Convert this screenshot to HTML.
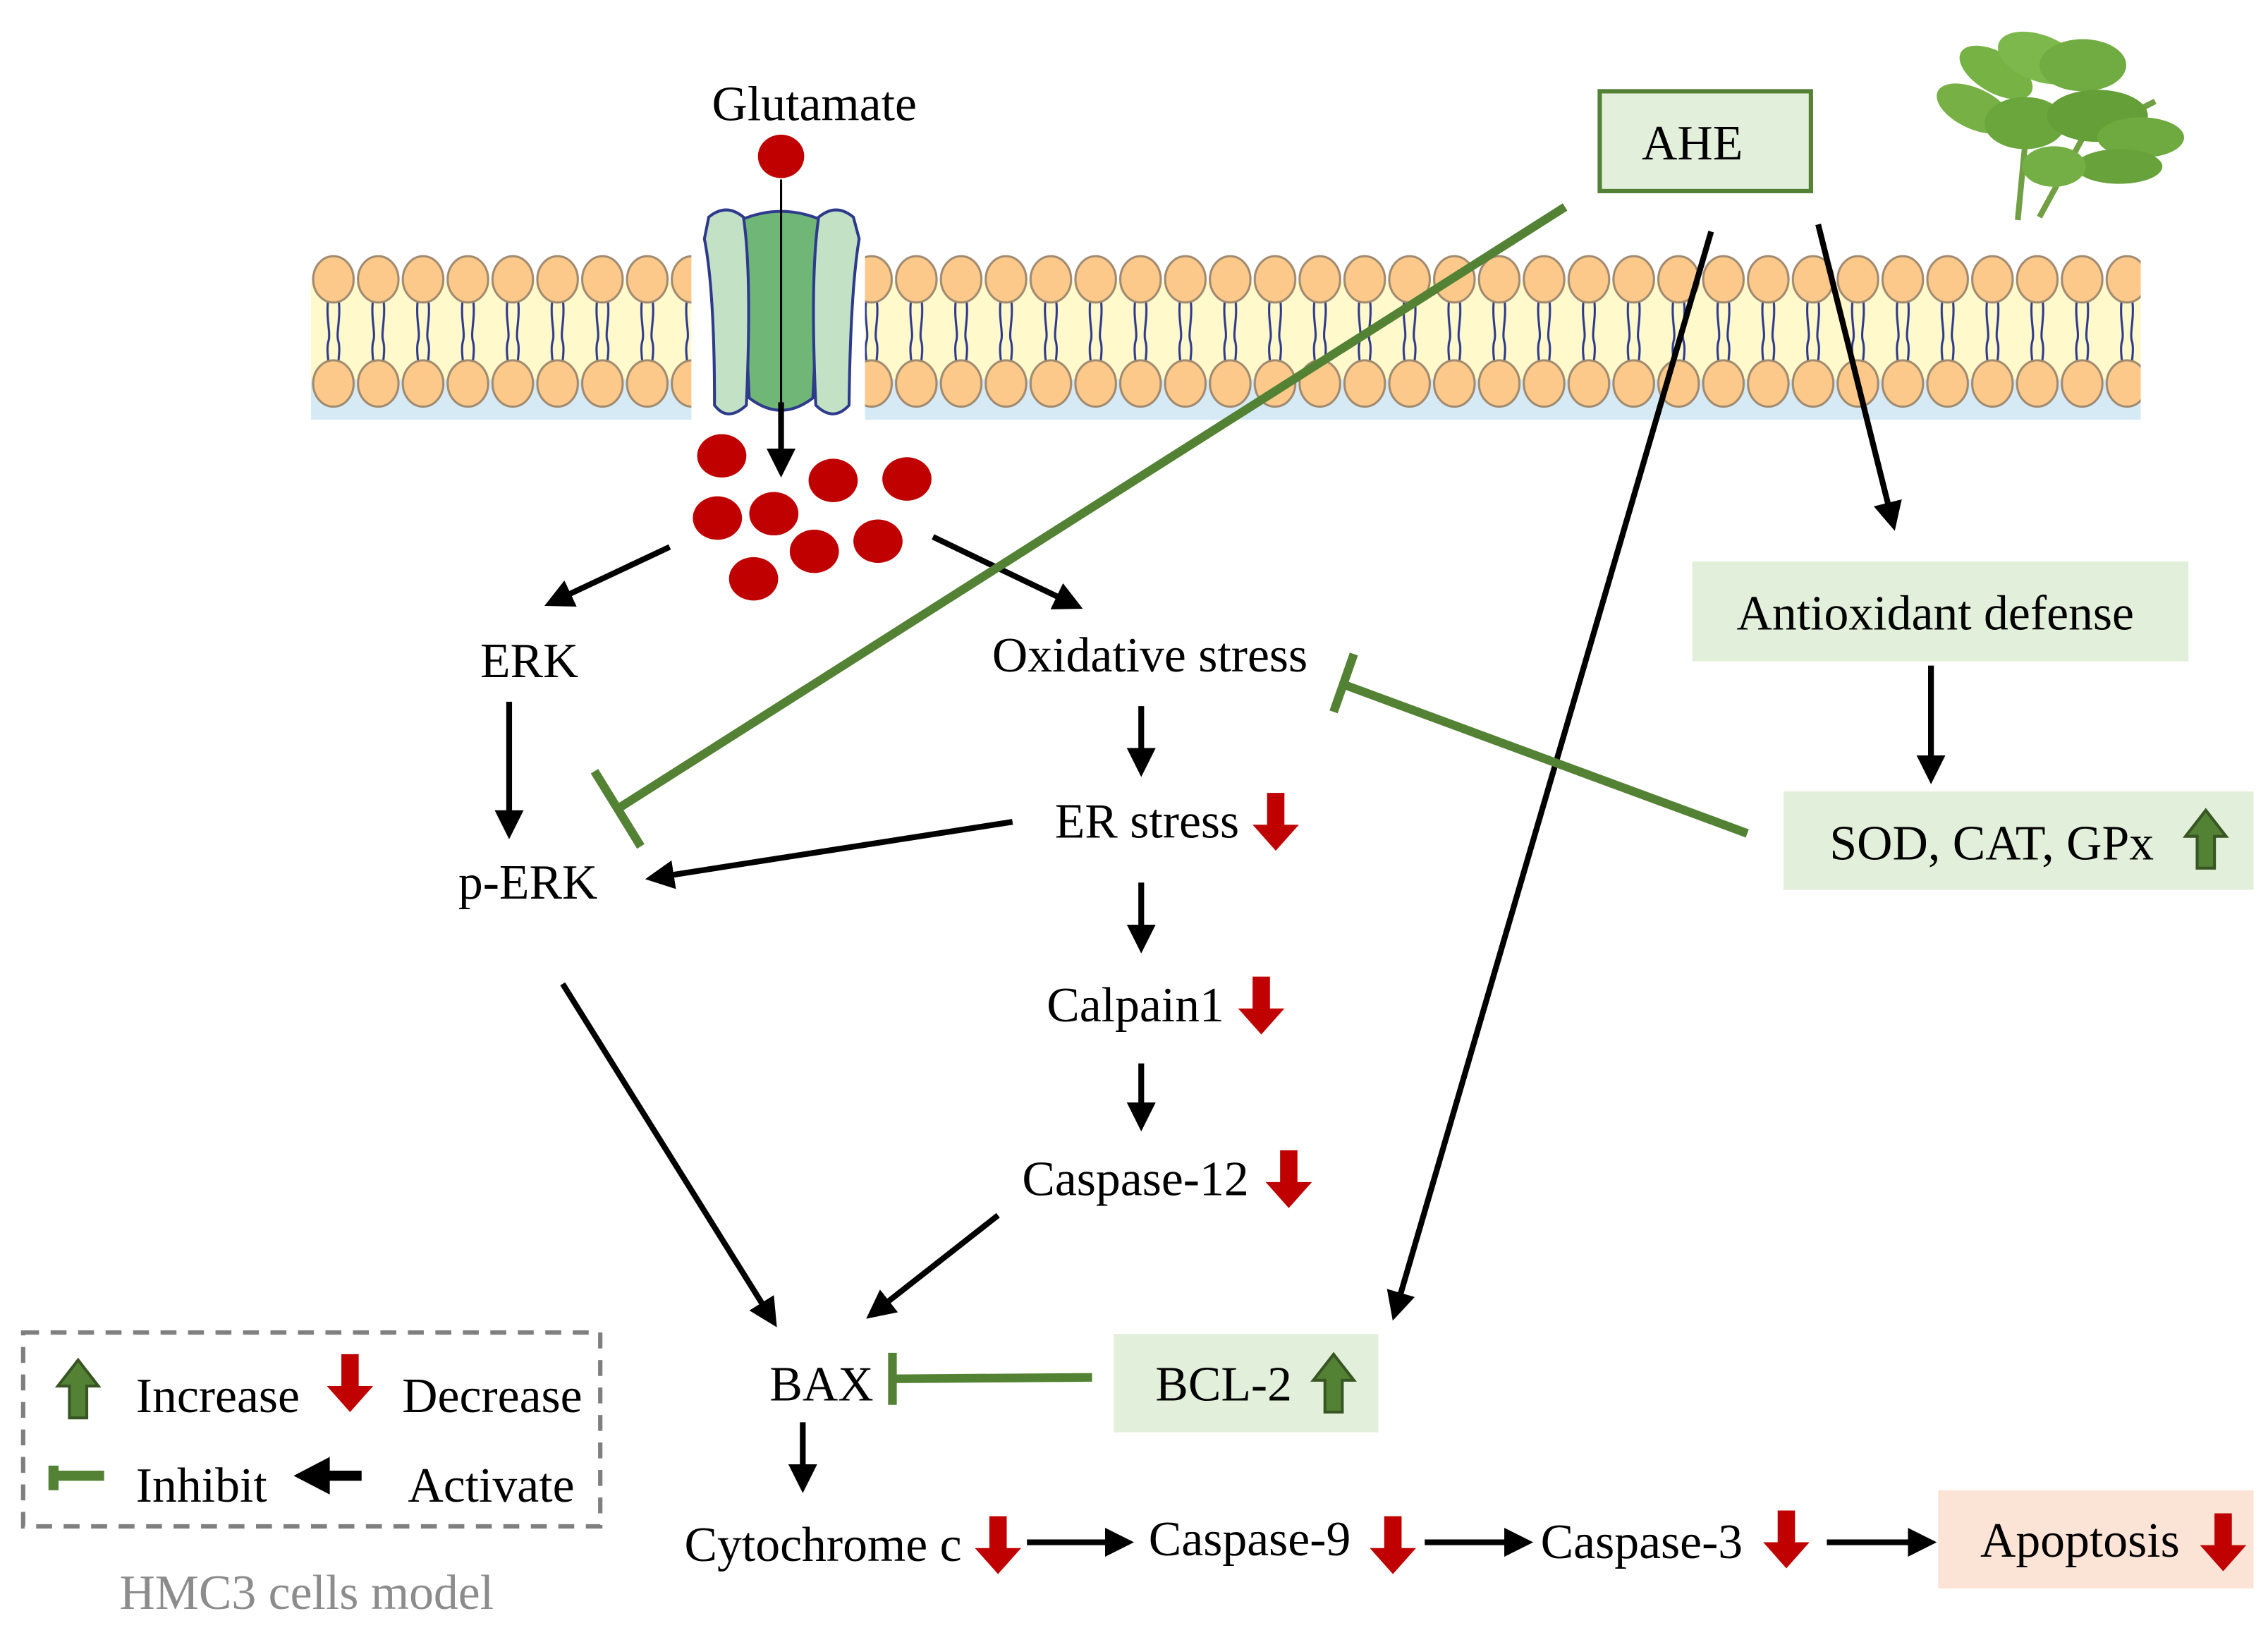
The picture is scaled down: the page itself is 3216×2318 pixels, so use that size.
<!DOCTYPE html>
<html><head><meta charset="utf-8"><style>
html,body{margin:0;padding:0;background:#fff;}
svg{display:block;}
text{font-family:"Liberation Serif",serif;font-size:34px;fill:#000;}
</style></head><body>
<svg width="3216" height="2318" viewBox="0 0 1568 1130" xmlns="http://www.w3.org/2000/svg">
<defs>
<marker id="ah" viewBox="0 0 10 10" refX="8" refY="5" markerWidth="5" markerHeight="5" orient="auto" markerUnits="strokeWidth">
<path d="M0,0 L10,5 L0,10 z" fill="#000"/></marker>
<pattern id="lip" x="215" y="170" width="31" height="130" patternUnits="userSpaceOnUse">
<path d="M12,36 C10,50 14,60 12,66 C10,74 14,84 12,96 M19,36 C21,50 17,60 19,66 C21,74 17,84 19,96" stroke="#2e3a8c" stroke-width="1.5" fill="none"/>
<ellipse cx="15.5" cy="23" rx="14" ry="16" fill="#fdc98a" stroke="#a08a70" stroke-width="1.5"/>
<ellipse cx="15.5" cy="95" rx="14" ry="16" fill="#fdc98a" stroke="#a08a70" stroke-width="1.5"/>
</pattern>
<g id="rdn"><path d="M-6,-20 H6 V2 H16 L0,20 L-16,2 H-6 Z" fill="#c00000"/></g>
<g id="gup"><path d="M-6,20 H6 V-2 H14 L0,-20 L-14,-2 H-6 Z" fill="#548235" stroke="#375623" stroke-width="2"/></g>
</defs>

<!-- plant -->
<g opacity="0.95">
<path d="M1395,152 L1400,100 M1410,150 L1440,95 L1490,70" stroke="#6a9a3a" stroke-width="4" fill="none"/>
<ellipse cx="1380" cy="50" rx="28" ry="14" fill="#6fae3a" transform="rotate(30 1380 50)"/>
<ellipse cx="1410" cy="40" rx="30" ry="16" fill="#76b542" transform="rotate(20 1410 40)"/>
<ellipse cx="1440" cy="45" rx="30" ry="18" fill="#6aa838"/>
<ellipse cx="1365" cy="75" rx="28" ry="14" fill="#70ad3c" transform="rotate(25 1365 75)"/>
<ellipse cx="1400" cy="85" rx="28" ry="18" fill="#64a233"/>
<ellipse cx="1450" cy="80" rx="35" ry="18" fill="#5c9a2e"/>
<ellipse cx="1480" cy="95" rx="30" ry="14" fill="#67a636"/>
<ellipse cx="1465" cy="115" rx="30" ry="12" fill="#5f9e30"/>
<ellipse cx="1420" cy="115" rx="22" ry="14" fill="#6cab3b"/>
</g>

<!-- membrane -->
<rect x="215" y="195" width="1265" height="70" fill="#fff9cc"/>
<rect x="215" y="262" width="1265" height="28" fill="#d5eaf5"/>
<rect x="215" y="170" width="1265" height="120" fill="url(#lip)"/>

<!-- channel -->
<rect x="478" y="140" width="120" height="150" fill="#fff"/>
<path d="M512,152 Q540,140 568,152 L562,275 Q540,292 518,275 Z" fill="#70b677" stroke="#2e3a8c" stroke-width="2"/>
<path d="M490,150 Q502,140 514,150 Q520,190 516,280 Q503,292 494,280 Q494,200 487,165 Z" fill="#c3e2c5" stroke="#2e3a8c" stroke-width="2"/>
<path d="M566,150 Q578,140 590,150 L594,165 Q588,200 587,280 Q576,292 564,280 Q560,190 566,150 Z" fill="#c3e2c5" stroke="#2e3a8c" stroke-width="2"/>

<text x="563" y="83" text-anchor="middle">Glutamate</text>
<ellipse cx="540" cy="108" rx="16" ry="15" fill="#c00000"/>
<line x1="540" y1="124" x2="540" y2="282" stroke="#000" stroke-width="1.5"/>
<line x1="540" y1="278" x2="540" y2="326" stroke="#000" stroke-width="4" marker-end="url(#ah)"/>

<g fill="#c00000">
<ellipse cx="499" cy="315" rx="17" ry="15"/><ellipse cx="576" cy="332" rx="17" ry="15"/>
<ellipse cx="627" cy="331" rx="17" ry="15"/><ellipse cx="496" cy="358" rx="17" ry="15"/>
<ellipse cx="535" cy="355" rx="17" ry="15"/><ellipse cx="563" cy="381" rx="17" ry="15"/>
<ellipse cx="607" cy="374" rx="17" ry="15"/><ellipse cx="521" cy="400" rx="17" ry="15"/>
</g>

<g stroke="#000" stroke-width="4" marker-end="url(#ah)">
<line x1="463" y1="378" x2="380" y2="417"/>
<line x1="645" y1="371" x2="745" y2="419"/>
<line x1="352" y1="485" x2="352" y2="576"/>
<line x1="789" y1="488" x2="789" y2="533"/>
<line x1="700" y1="568" x2="450" y2="607"/>
<line x1="789" y1="610" x2="789" y2="655"/>
<line x1="789" y1="735" x2="789" y2="778"/>
<line x1="690" y1="840" x2="602" y2="909"/>
<line x1="389" y1="680" x2="535" y2="914"/>
<line x1="555" y1="983" x2="555" y2="1028"/>
<line x1="710" y1="1066" x2="780" y2="1066"/>
<line x1="985" y1="1066" x2="1056" y2="1066"/>
<line x1="1263" y1="1066" x2="1335" y2="1066"/>
<line x1="1183" y1="160" x2="964" y2="909"/>
<line x1="1257" y1="155" x2="1309" y2="363"/>
<line x1="1335" y1="460" x2="1335" y2="538"/>
</g>

<!-- green inhibits -->
<g stroke="#548235" stroke-width="6" fill="none">
<line x1="1082" y1="143" x2="427" y2="559"/>
<line x1="411" y1="533" x2="443" y2="585"/>
<line x1="1208" y1="576" x2="926" y2="472"/>
<line x1="936" y1="452" x2="922" y2="492"/>
<line x1="755" y1="952" x2="617" y2="953"/>
<line x1="617" y1="935" x2="617" y2="971"/>
</g>

<!-- boxes -->
<rect x="1106" y="63" width="146" height="69" fill="#e2efda" stroke="#548235" stroke-width="3"/>
<text x="1170" y="110" text-anchor="middle">AHE</text>
<rect x="1170" y="388" width="343" height="69" fill="#e2efda"/>
<text x="1338" y="435" text-anchor="middle">Antioxidant defense</text>
<rect x="1233" y="547" width="325" height="68" fill="#e2efda"/>
<text x="1377" y="594" text-anchor="middle">SOD, CAT, GPx</text>
<use href="#gup" x="1525" y="580"/>
<rect x="770" y="922" width="183" height="68" fill="#e2efda"/>
<text x="846" y="968" text-anchor="middle">BCL-2</text>
<use href="#gup" x="922" y="956"/>
<rect x="1340" y="1030" width="218" height="68" fill="#fbe4d5"/>
<text x="1438" y="1076" text-anchor="middle">Apoptosis</text>
<use href="#rdn" x="1537" y="1066"/>

<!-- labels -->
<text x="366" y="468" text-anchor="middle">ERK</text>
<text x="365" y="621" text-anchor="middle">p-ERK</text>
<text x="795" y="464" text-anchor="middle">Oxidative stress</text>
<text x="793" y="579" text-anchor="middle">ER stress</text>
<use href="#rdn" x="882" y="568"/>
<text x="785" y="706" text-anchor="middle">Calpain1</text>
<use href="#rdn" x="872" y="695"/>
<text x="785" y="826" text-anchor="middle">Caspase-12</text>
<use href="#rdn" x="891" y="815"/>
<text x="568" y="968" text-anchor="middle">BAX</text>
<text x="569" y="1079" text-anchor="middle">Cytochrome c</text>
<use href="#rdn" x="690" y="1068"/>
<text x="864" y="1075" text-anchor="middle">Caspase-9</text>
<use href="#rdn" x="963" y="1068"/>
<text x="1135" y="1077" text-anchor="middle">Caspase-3</text>
<use href="#rdn" x="1235" y="1064"/>

<!-- legend -->
<rect x="16" y="921" width="399" height="134" fill="none" stroke="#7f7f7f" stroke-width="3" stroke-dasharray="11,8"/>
<use href="#gup" x="54" y="960"/>
<text x="94" y="976">Increase</text>
<use href="#rdn" x="242" y="956"/>
<text x="278" y="976">Decrease</text>
<path d="M37,1013 V1030 M37,1020 H72" stroke="#548235" stroke-width="7" fill="none"/>
<text x="94" y="1038">Inhibit</text>
<path d="M250,1020 H225" stroke="#000" stroke-width="7"/>
<path d="M203,1020 L228,1007 L228,1033 Z" fill="#000"/>
<text x="282" y="1038">Activate</text>
<text x="212" y="1112" text-anchor="middle" style="fill:#8c8c8c">HMC3 cells model</text>
</svg>
</body></html>
